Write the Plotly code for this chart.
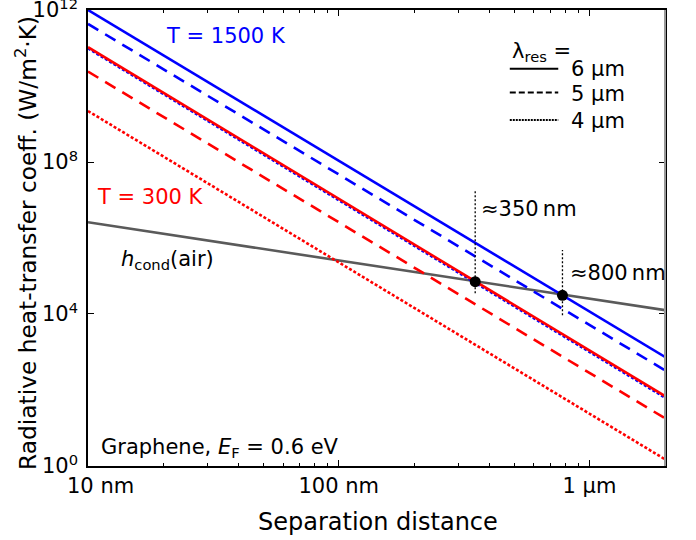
import plotly.graph_objects as go

# ---- data ----
sep_nm = [10, 2000]                       # separation distance end points (nm)
h_1500_6um = [1.0e12, 740]
h_1500_5um = [4.3e11, 330]
h_1500_4um = [9.8e10, 63]
h_300_6um = [1.05e11, 69]
h_300_5um = [2.4e10, 18]
h_300_4um = [2.2e9, 1.5]
h_cond_air = [2.6e6, 1.26e4]

cross_sep = [350, 780]                    # crossing points (nm)
cross_h = [7.1e4, 3.1e4]
guide_top = [1.9e7, 4.8e5]
guide_bottom = [3.5e4, 9.3e3]

x_tickvals = [10, 100, 1000]
x_ticktext = ["", "100 nm", "1 µm"]
y_tickvals = [1, 1e4, 1e8, 1e12]
y_ticktext = ["10<sup>0</sup>", "10<sup>4</sup>", "10<sup>8</sup>", "10<sup>12</sup>"]
x_minor = [20, 30, 40, 50, 60, 70, 80, 90, 200, 300, 400, 500, 600, 700, 800, 900, 2000]

FONT = "DejaVu Sans"
BLUE = "#0000ff"
RED = "#ff0000"
GRAY = "#5a5a5a"
DASH = "12px,8px"
DOT = "3px,2px"

fig = go.Figure()

def line(y, color, dash):
    fig.add_trace(go.Scatter(x=sep_nm, y=y, mode="lines",
                             line=dict(color=color, width=2.6, dash=dash),
                             showlegend=False, hoverinfo="skip"))

line(h_cond_air, GRAY, "solid")
line(h_300_4um, RED, DOT)
line(h_300_5um, RED, DASH)
line(h_1500_4um, BLUE, DOT)
line(h_300_6um, RED, "solid")
line(h_1500_5um, BLUE, DASH)
line(h_1500_6um, BLUE, "solid")

for xs, yt, yb in zip(cross_sep, guide_top, guide_bottom):
    fig.add_trace(go.Scatter(x=[xs, xs], y=[yb, yt], mode="lines",
                             line=dict(color="black", width=1.3, dash="2px,2px"),
                             showlegend=False, hoverinfo="skip"))

fig.add_trace(go.Scatter(x=cross_sep, y=cross_h, mode="markers",
                         marker=dict(color="black", size=11),
                         showlegend=False, hoverinfo="skip"))

def ann(text, lx, ly, color="black", size=21, xanchor="center"):
    fig.add_annotation(x=lx, y=ly, xref="x", yref="y", text=text, showarrow=False,
                       font=dict(family=FONT, size=size, color=color),
                       xanchor=xanchor, yanchor="middle")

ann("T = 1500 K", 1.552, 11.32, BLUE)
ann("T = 300 K", 1.251, 7.085, RED)
ann("<i>h</i><sub>cond</sub>(air)", 1.317, 5.42)
ann("Graphene, <i>E</i><sub>F</sub> = 0.6 eV", 1.042, 0.47, xanchor="left")
ann("≈350\u2009nm", 2.561, 6.76, xanchor="left")
ann("≈800\u2009nm", 2.916, 5.07, xanchor="left")
ann("λ<sub>res</sub> =", 2.681, 10.89, xanchor="left")
ann("6 µm", 2.920, 10.44, xanchor="left")
ann("5 µm", 2.920, 9.79, xanchor="left")
ann("4 µm", 2.920, 9.08, xanchor="left")
# first x tick label, offset to the right as in the reference
fig.add_annotation(x=1, y=0, xref="x", yref="paper", text="10 nm", showarrow=False,
                   font=dict(family=FONT, size=21, color="black"),
                   xanchor="center", yanchor="top", xshift=12, yshift=-6)
# axis titles
fig.add_annotation(x=0.502, y=-0.123, xref="paper", yref="paper", text="Separation distance",
                   showarrow=False, font=dict(family=FONT, size=24, color="black"),
                   xanchor="center", yanchor="middle")
fig.add_annotation(x=-0.1075, y=0.489, xref="paper", yref="paper",
                   text="Radiative heat-transfer coeff. (W/m<sup>2</sup>·K)", textangle=-90,
                   showarrow=False, font=dict(family=FONT, size=23.3, color="black"),
                   xanchor="center", yanchor="middle")

# legend samples
for yp, dash in [(0.871, "solid"), (0.819, "6px,3px"), (0.759, "2px,1px")]:
    fig.add_shape(type="line", xref="paper", yref="paper", x0=0.731, x1=0.815,
                  y0=yp, y1=yp, line=dict(color="black", width=2, dash=dash))

axis_common = dict(showgrid=False, zeroline=False, showline=True, linecolor="black",
                   linewidth=1.5, mirror="allticks", ticks="inside", automargin=False,
                   ticklabeloverflow="allow",
                   tickfont=dict(family=FONT, size=21, color="black"))

fig.update_xaxes(type="log", range=[1, 3.30103], tickmode="array",
                 tickvals=x_tickvals, ticktext=x_ticktext, ticklen=6, tickcolor="black",
                 minor=dict(tickvals=x_minor, ticks="inside", ticklen=3, tickcolor="black"),
                 **axis_common)
fig.update_yaxes(type="log", range=[-0.0005, 12.0005], tickmode="array",
                 tickvals=y_tickvals, ticktext=y_ticktext, ticklen=6, tickcolor="black",
                 ticklabelstandoff=4,
                 **axis_common)

fig.add_shape(type="line", xref="paper", yref="paper", x0=1, x1=1, y0=0, y1=1,
              line=dict(color="#999999", width=2))

fig.update_layout(width=696, height=540, margin=dict(l=88, r=31, t=10, b=74),
                  plot_bgcolor="white", paper_bgcolor="white",
                  font=dict(family=FONT, color="black"))

fig.write_html("out.html", config={"displayModeBar": False},
               post_script="document.body.style.margin='0';document.body.style.overflow='hidden';")
